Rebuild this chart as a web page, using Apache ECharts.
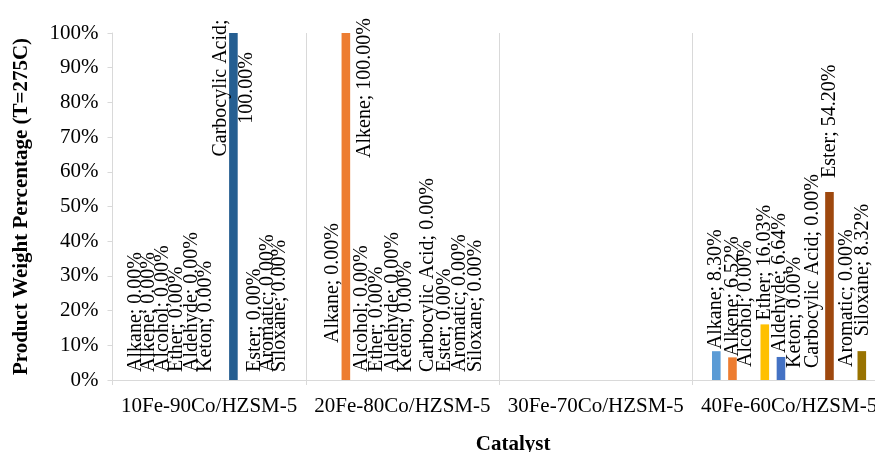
<!DOCTYPE html>
<html>
<head>
<meta charset="utf-8">
<script src="https://cdn.jsdelivr.net/npm/echarts@6/dist/echarts.min.js"></script>
<style>
  html, body { margin: 0; padding: 0; background: #fff; overflow: hidden; width: 875px; height: 452px; }
  /* the plot runs on past the right edge of the window */
  #chart { width: 890px; height: 452px; }
</style>
</head>
<body>
<div id="chart"></div>
<script>
// Catalysts on the x axis
const categories = ['10Fe-90Co/HZSM-5', '20Fe-80Co/HZSM-5', '30Fe-70Co/HZSM-5', '40Fe-60Co/HZSM-5'];

// Product weight percentage per compound class (null = not measured)
const alkane         = [0,   0,   null, 8.30];
const alkene         = [0,   100, null, 6.52];
const alcohol        = [0,   0,   null, 0.00];
const ether          = [0,   0,   null, 16.03];
const aldehyde       = [0,   0,   null, 6.64];
const keton          = [0,   0,   null, 0.00];
const carbocylicAcid = [100, 0,   null, 0.00];
const ester          = [0,   0,   null, 54.20];
const aromatic       = [0,   0,   null, 0.00];
const siloxane       = [0,   0,   null, 8.32];

const seriesNames = ['Alkane', 'Alkene', 'Alcohol', 'Ether', 'Aldehyde', 'Keton',
                     'Carbocylic Acid', 'Ester', 'Aromatic', 'Siloxane'];
const seriesValues = [alkane, alkene, alcohol, ether, aldehyde, keton,
                      carbocylicAcid, ester, aromatic, siloxane];

// y-axis tick values
const yTicks = [0, 10, 20, 30, 40, 50, 60, 70, 80, 90, 100];

// Office palette
const colors = ['#5B9BD5', '#ED7D31', '#A5A5A5', '#FFC000', '#4472C4', '#70AD47',
                '#255E91', '#9E480E', '#636363', '#997300'];

// Data label layout: lift above the bar top and sideways nudge, [series][category]
const labelLift = [
  [8, 37, 0, 2],
  [8, 0, 0, 1],
  [8, 8, 0, 13],
  [8, 8, 0, 4],
  [8, 8, 0, 4],
  [8, 8, 0, 12],
  [0, 8, 0, 12],
  [8, 8, 0, 14],
  [8, 8, 0, 13],
  [8, 8, 0, 15]
];
const labelShift = [
  [-1, 3, 0, -1],
  [-4, 19, 0, 0],
  [-6, 0, 0, -3],
  [-8, -1, 0, 0],
  [-9, -2, 0, -1],
  [-11, -5, 0, -2],
  [0, 1, 0, -1],
  [5, 2, 0, 0],
  [2, 1, 0, 1],
  [-2, 1, 0, 1]
];

const FONT = "'Times New Roman', 'Liberation Serif', serif";

function fmt(v) { return v.toFixed(2) + '%'; }

// Labels are turned 90°, so the offset is given in the text's own frame:
// [along the text (up), across the text (right)].
const series = seriesNames.map((name, s) => ({
  name: name,
  type: 'bar',
  barWidth: 8.6,
  barGap: '88%',
  itemStyle: { color: colors[s] },
  data: seriesValues[s].map((v, c) => {
    if (v === null) return null;
    const full = v >= 100;
    const label = full ? {
      show: true,
      position: 'insideTop',
      distance: 55,
      rotate: 90,
      align: 'center',
      verticalAlign: 'middle',
      lineHeight: 26,
      offset: [0, labelShift[s][c]],
      formatter: name.length > 10 ? name + ';\n' + fmt(v) : name + '; ' + fmt(v)
    } : {
      show: true,
      position: 'top',
      distance: labelLift[s][c],
      rotate: 90,
      align: 'left',
      verticalAlign: 'middle',
      offset: [0, labelShift[s][c]],
      formatter: name + '; ' + fmt(v)
    };
    return { value: v, label: label };
  }),
  label: {
    fontFamily: FONT,
    fontSize: 20,
    color: '#000'
  }
}));

const chart = echarts.init(document.getElementById('chart'), null, { renderer: 'canvas' });
chart.setOption({
  animation: false,
  backgroundColor: '#fff',
  color: colors,
  textStyle: { fontFamily: FONT },
  grid: { left: 112.5, top: 33, bottom: 72, right: 4.3, containLabel: false, outerBoundsMode: 'none' },
  xAxis: {
    type: 'category',
    data: categories,
    name: 'Catalyst',
    nameLocation: 'middle',
    nameGap: 54,
    nameTextStyle: { fontFamily: FONT, fontSize: 21, fontWeight: 'bold', color: '#000', padding: [0, 0, 0, 28] },
    axisLine: { lineStyle: { color: '#d9d9d9', width: 1 } },
    axisTick: { show: true, length: 5, lineStyle: { color: '#d9d9d9' } },
    splitLine: { show: true, lineStyle: { color: '#d9d9d9', width: 1 } },
    axisLabel: { fontFamily: FONT, fontSize: 21, color: '#000', margin: 16, interval: 0 }
  },
  yAxis: {
    type: 'value',
    min: yTicks[0],
    max: yTicks[yTicks.length - 1],
    interval: yTicks[1] - yTicks[0],
    name: 'Product Weight Percentage (T=275C)',
    nameLocation: 'middle',
    nameGap: 80,
    nameTextStyle: { fontFamily: FONT, fontSize: 21, fontWeight: 'bold', color: '#000' },
    axisLine: { show: true, lineStyle: { color: '#d9d9d9', width: 1 } },
    axisTick: { show: true, length: 5, lineStyle: { color: '#d9d9d9' } },
    splitLine: { show: false },
    axisLabel: { fontFamily: FONT, fontSize: 21, color: '#000', margin: 14, formatter: '{value}%' }
  },
  series: series
});
</script>
</body>
</html>
